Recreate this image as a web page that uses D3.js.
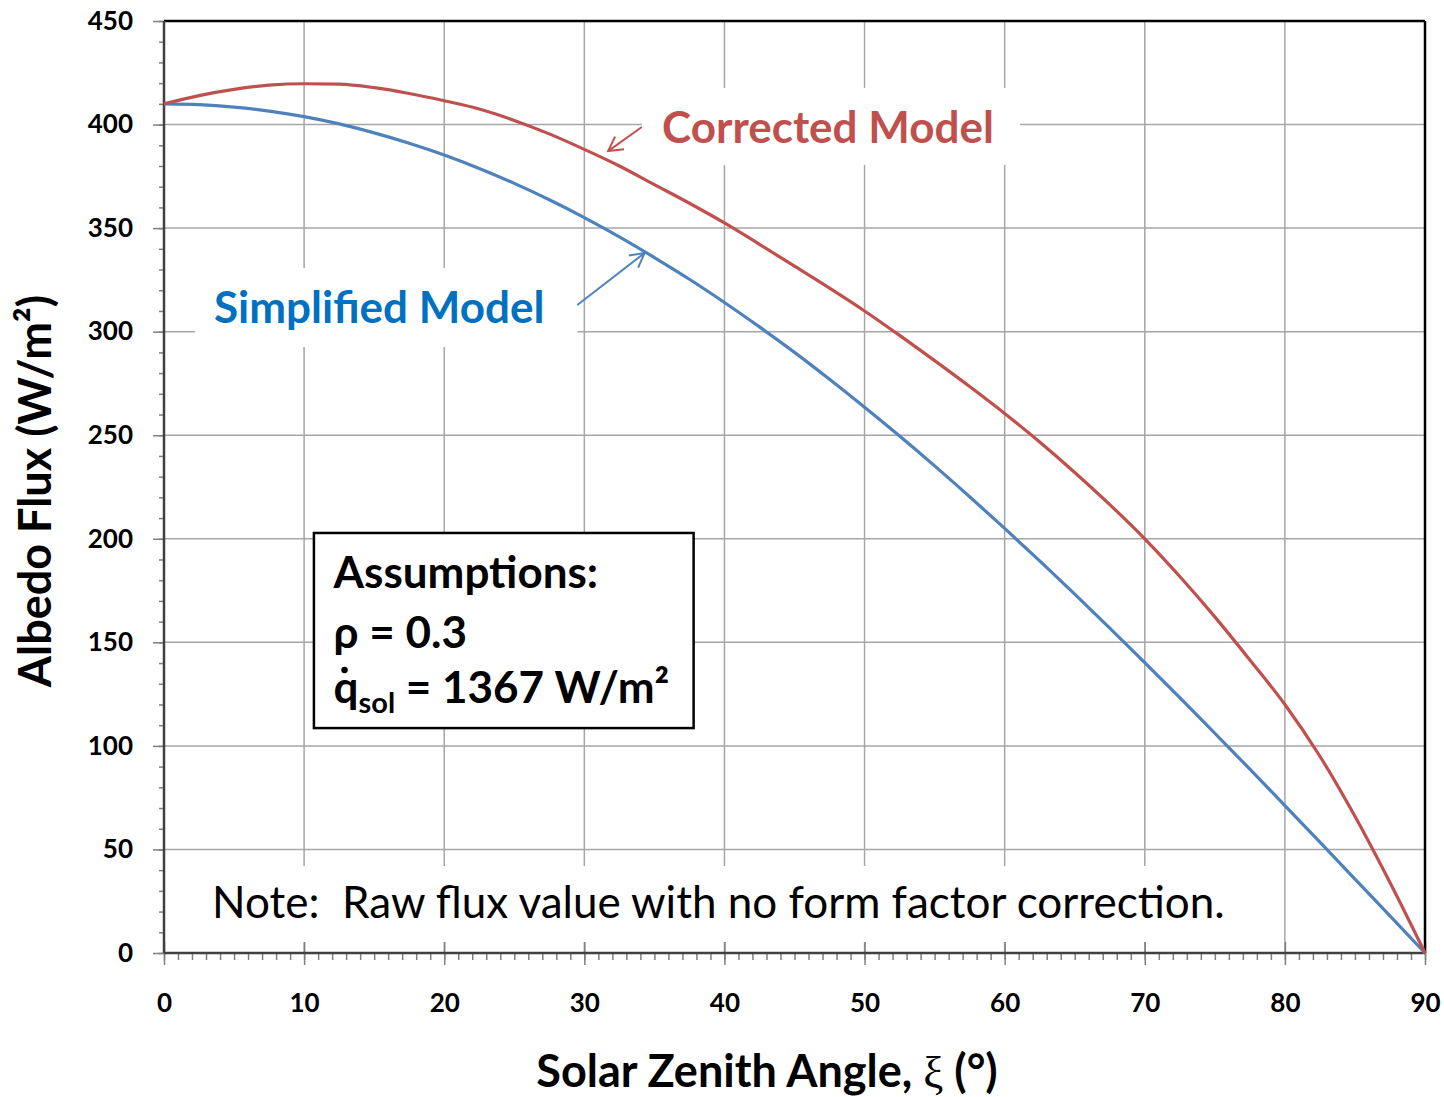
<!DOCTYPE html>
<html>
<head>
<meta charset="utf-8">
<script src="https://cdn.jsdelivr.net/npm/d3@7"></script>
<style>
  body { margin: 0; background: #fff; }
  svg { font-family: Lato, "Open Sans", sans-serif; }
</style>
</head>
<body>
<svg width="1444" height="1097"></svg>
<script>
// angles (deg) and flux values (W/m2)
var angles = [0, 2.5, 5, 7.5, 10, 12.5, 15, 17.5, 20, 22.5, 25, 27.5, 30, 32.5, 35, 37.5, 40, 42.5, 45, 47.5,
  50, 52.5, 55, 57.5, 60, 62.5, 65, 67.5, 70, 72.5, 75, 77.5, 80, 82.5, 85, 87.5, 90];
var simplified = [410, 409.6, 408.4, 406.5, 403.8, 400.3, 396, 391, 385.3, 378.8, 371.6, 363.7, 355.1, 345.8,
  335.8, 325.3, 314.1, 302.3, 290, 277, 263.5, 249.6, 235.2, 220.3, 205, 189.3, 173.3, 156.9, 140.2, 123.3,
  106.1, 88.8, 71.2, 53.5, 35.7, 17.9, 0];
var corrected = [410, 414, 417, 419, 419.7, 419.5, 417.8, 415, 411.5, 407.5, 402, 395.5, 388, 380, 371, 362,
  352.5, 342.2, 331.6, 321, 310, 298.2, 286, 273.5, 260.5, 246.7, 232, 216.5, 200, 181.8, 162.3, 141.5, 120,
  95, 66, 34, 0];
var xTicks = [0, 10, 20, 30, 40, 50, 60, 70, 80, 90];
var yTicks = [0, 50, 100, 150, 200, 250, 300, 350, 400, 450];

var svg = d3.select("svg");
var plotL = 164, plotR = 1425, plotT = 21, plotB = 953;

var x = d3.scaleLinear().domain([0, 90]).range([plotL, plotR]);
var y = d3.scaleLinear().domain([0, 450]).range([plotB, plotT]);

var gridColor = "#a6a6a6";

// grid
svg.append("g").selectAll("line")
  .data(yTicks.filter(function(d){ return d > 0 && d < 450; }))
  .enter().append("line")
  .attr("x1", plotL).attr("x2", plotR)
  .attr("y1", function(d){ return y(d); }).attr("y2", function(d){ return y(d); })
  .attr("stroke", gridColor).attr("stroke-width", 1.5);

svg.append("g").selectAll("line")
  .data(xTicks.filter(function(d){ return d > 0 && d < 90; }))
  .enter().append("line")
  .attr("y1", plotT).attr("y2", plotB)
  .attr("x1", function(d){ return x(d); }).attr("x2", function(d){ return x(d); })
  .attr("stroke", gridColor).attr("stroke-width", 1.5);

// white patches behind the annotations (hide grid like the original)
function patch(x0, x1, y0, y1) {
  svg.append("rect")
    .attr("x", x(x0)).attr("y", y(y0))
    .attr("width", x(x1) - x(x0)).attr("height", y(y1) - y(y0))
    .attr("fill", "#fff");
}
patch(34.1, 61.1, 417.7, 380.5);
patch(2.2, 29.5, 330.7, 292.6);
patch(2.2, 77.2, 42, 5.3);

// minor ticks
var yMinor = d3.range(0, 451, 10);
var xMinor = d3.range(0, 91, 1);

function greyTicks(g) {
  g.select(".domain").remove();
  g.selectAll("line").attr("stroke", "#7f7f7f").attr("stroke-width", 1.5);
}

svg.append("g")
  .attr("transform", "translate(" + plotL + ",0)")
  .call(d3.axisLeft(y).tickValues(yMinor).tickSize(5).tickFormat(""))
  .call(greyTicks);

svg.append("g")
  .attr("transform", "translate(0," + plotB + ")")
  .call(d3.axisBottom(x).tickValues(xMinor).tickSize(7).tickFormat(""))
  .call(greyTicks);

svg.append("g")
  .attr("transform", "translate(0," + plotB + ")")
  .call(d3.axisTop(x).tickValues(xTicks).tickSize(11).tickFormat(""))
  .call(greyTicks);

// major axes
var yAxis = svg.append("g")
  .attr("transform", "translate(" + plotL + ",0)")
  .call(d3.axisLeft(y).tickValues(yTicks).tickSize(11).tickPadding(20))
  .call(greyTicks);
yAxis.selectAll("text").attr("font-family", "Lato").attr("font-weight", "bold")
  .attr("font-size", 26).attr("fill", "#000");

var xAxis = svg.append("g")
  .attr("transform", "translate(0," + plotB + ")")
  .call(d3.axisBottom(x).tickValues(xTicks).tickSize(12).tickPadding(29))
  .call(greyTicks);
xAxis.selectAll("text").attr("font-family", "Lato").attr("font-weight", "bold")
  .attr("font-size", 26).attr("fill", "#000");

// plot frame
svg.append("line").attr("x1", plotL).attr("x2", plotR).attr("y1", plotT).attr("y2", plotT)
  .attr("stroke", "#000").attr("stroke-width", 2.5);
svg.append("line").attr("x1", plotR).attr("x2", plotR).attr("y1", plotT).attr("y2", plotB)
  .attr("stroke", "#000").attr("stroke-width", 2.5);
svg.append("line").attr("x1", plotL).attr("x2", plotL).attr("y1", plotT).attr("y2", plotB)
  .attr("stroke", "#404040").attr("stroke-width", 2.5);
svg.append("line").attr("x1", plotL).attr("x2", plotR).attr("y1", plotB).attr("y2", plotB)
  .attr("stroke", "#404040").attr("stroke-width", 2.5);

// curves
var line = d3.line()
  .x(function(d){ return x(d[0]); })
  .y(function(d){ return y(d[1]); })
  .curve(d3.curveMonotoneX);

svg.append("path")
  .datum(angles.map(function(a, i){ return [a, simplified[i]]; }))
  .attr("d", line).attr("fill", "none")
  .attr("stroke", "#4f81bd").attr("stroke-width", 3.2);

svg.append("path")
  .datum(angles.map(function(a, i){ return [a, corrected[i]]; }))
  .attr("d", line).attr("fill", "none")
  .attr("stroke", "#c0504d").attr("stroke-width", 3.2);

// arrows
function arrow(x0, y0, x1, y1, color) {
  var px0 = x(x0), py0 = y(y0), px1 = x(x1), py1 = y(y1);
  var ang = Math.atan2(py1 - py0, px1 - px0);
  var len = 16, spread = 0.5;
  svg.append("line").attr("x1", px0).attr("y1", py0).attr("x2", px1).attr("y2", py1)
    .attr("stroke", color).attr("stroke-width", 2);
  svg.append("path")
    .attr("d", "M" + (px1 - len * Math.cos(ang - spread)) + "," + (py1 - len * Math.sin(ang - spread)) +
      "L" + px1 + "," + py1 +
      "L" + (px1 - len * Math.cos(ang + spread)) + "," + (py1 - len * Math.sin(ang + spread)))
    .attr("fill", "none").attr("stroke", color).attr("stroke-width", 2);
}
arrow(34.1, 398.8, 31.7, 387.2, "#c0504d");
arrow(29.5, 312.9, 34.3, 338, "#4f81bd");

// series labels
svg.append("text").attr("x", x(35.55)).attr("y", y(391))
  .attr("font-size", 44).attr("font-weight", "bold").attr("fill", "#c0504d")
  .text("Corrected Model");
svg.append("text").attr("x", x(3.57)).attr("y", y(304.2))
  .attr("font-size", 44).attr("font-weight", "bold").attr("fill", "#0070c0")
  .text("Simplified Model");

// assumptions box
svg.append("rect")
  .attr("x", x(10.7)).attr("y", y(202.8))
  .attr("width", x(37.8) - x(10.7)).attr("height", y(108.6) - y(202.8))
  .attr("fill", "#fff").attr("stroke", "#000").attr("stroke-width", 2.5);

var ax = x(12.1);
svg.append("text").attr("x", ax).attr("y", y(176.2))
  .attr("font-size", 44).attr("font-weight", "bold").text("Assumptions:");
svg.append("text").attr("x", ax).attr("y", y(147.3))
  .attr("font-size", 44).attr("font-weight", "bold").text("\u03c1 = 0.3");
var q = svg.append("text").attr("x", ax).attr("y", y(120.7))
  .attr("font-size", 44).attr("font-weight", "bold");
q.append("tspan").text("q");
q.append("tspan").attr("font-size", 29).attr("dy", 10).text("sol");
q.append("tspan").attr("dy", -10).text(" = 1367 W/m\u00b2");
// dot over the q (flux rate)
svg.append("circle").attr("cx", ax + 11).attr("cy", y(120.7) - 33).attr("r", 3.2).attr("fill", "#000");

// note
svg.append("text").attr("x", x(3.43)).attr("y", y(16.9))
  .attr("font-size", 44).attr("fill", "#000")
  .attr("xml:space", "preserve")
  .text("Note:  Raw flux value with no form factor correction.");

// axis titles
var xt = svg.append("text").attr("x", 767).attr("y", 1087)
  .attr("text-anchor", "middle").attr("font-size", 45).attr("font-weight", "bold");
xt.append("tspan").text("Solar Zenith Angle, ");
xt.append("tspan").attr("font-family", "Liberation Serif").attr("font-weight", "normal").text("\u03be");
xt.append("tspan").text(" (\u00b0)");

svg.append("text")
  .attr("transform", "translate(51," + 491 + ") rotate(-90)")
  .attr("text-anchor", "middle").attr("font-size", 45).attr("font-weight", "bold")
  .text("Albedo Flux (W/m\u00b2)");
</script>
</body>
</html>
